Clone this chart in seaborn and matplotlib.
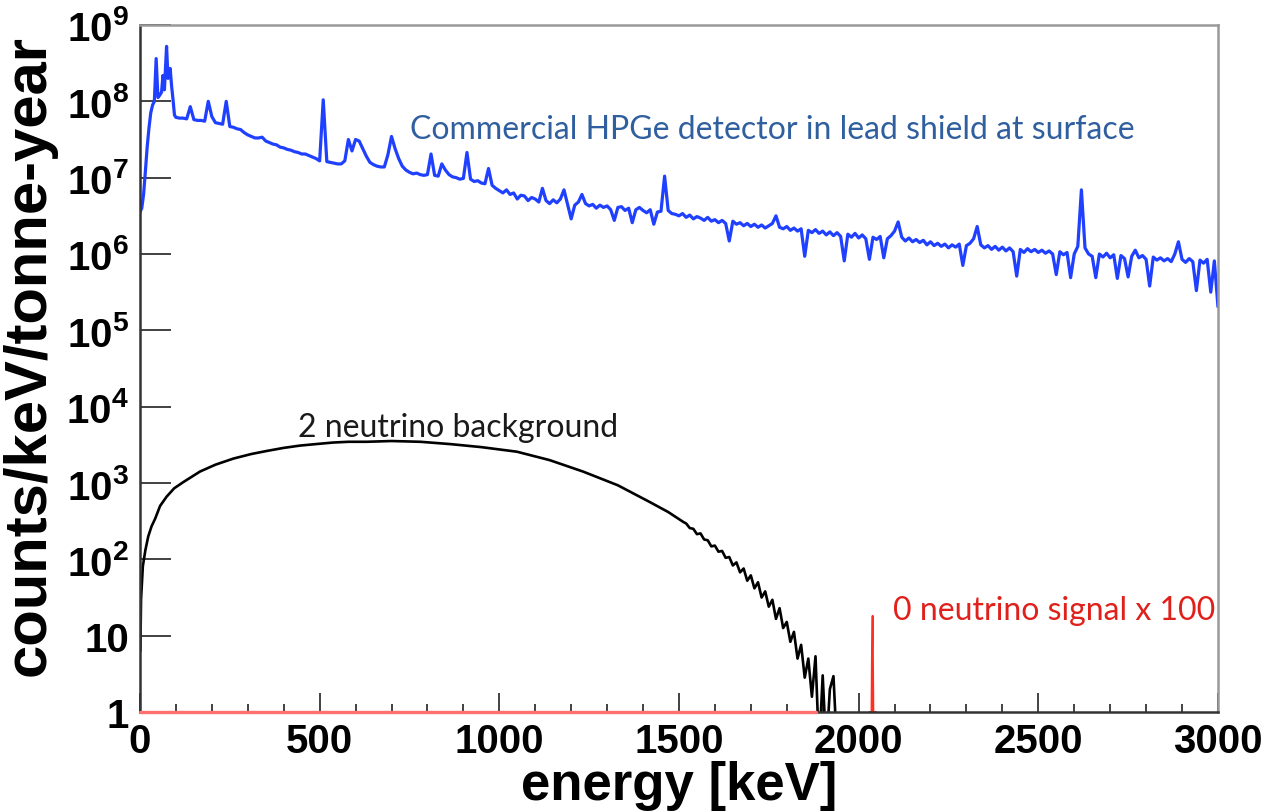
import numpy as np
import pandas as pd
import matplotlib
matplotlib.use('Agg')
import matplotlib.pyplot as plt
import matplotlib.ticker as mticker
import seaborn as sns

# ---- data (values stored as log10 of counts/keV/tonne-year) ----

# HPGe surface spectrum, low-energy part (keV)
hpge_low_energy = [0, 5, 10, 15, 20, 25, 30, 35, 40, 45, 50, 55, 60, 64, 68, 74, 78, 84, 88, 92, 96]
hpge_low_log = [6.55, 6.60, 6.78, 7.08, 7.40, 7.65, 7.85, 7.95, 8.00, 8.56, 8.05, 8.08, 8.12, 8.34,
                8.15, 8.72, 8.30, 8.43, 8.20, 8.02, 7.82]

# HPGe surface spectrum, 10 keV bins from 100 to 3000 keV (one row per 100 keV)
hpge_bin_start = 100
hpge_bin_width = 10
hpge_log = [
    7.79, 7.78, 7.78, 7.77, 7.93, 7.76, 7.75, 7.75, 7.74, 8.00,   # 100
    7.80, 7.72, 7.71, 7.70, 8.00, 7.67, 7.66, 7.64, 7.63, 7.59,   # 200
    7.56, 7.54, 7.52, 7.52, 7.53, 7.48, 7.46, 7.44, 7.43, 7.40,   # 300
    7.39, 7.37, 7.36, 7.34, 7.33, 7.31, 7.31, 7.29, 7.27, 7.25,   # 400
    7.22, 8.02, 7.21, 7.20, 7.19, 7.18, 7.18, 7.22, 7.50, 7.35,   # 500
    7.50, 7.48, 7.38, 7.28, 7.20, 7.17, 7.15, 7.14, 7.14, 7.30,   # 600
    7.54, 7.38, 7.25, 7.15, 7.10, 7.07, 7.05, 7.06, 7.04, 7.03,   # 700
    7.04, 7.31, 7.03, 7.02, 7.18, 7.10, 7.04, 7.01, 7.00, 6.98,   # 800
    6.99, 7.33, 6.98, 6.95, 6.96, 6.93, 6.92, 7.12, 6.90, 6.86,   # 900
    6.83, 6.80, 6.84, 6.78, 6.80, 6.72, 6.77, 6.76, 6.70, 6.74,   # 1000
    6.72, 6.68, 6.86, 6.70, 6.66, 6.71, 6.67, 6.72, 6.84, 6.65,   # 1100
    6.46, 6.64, 6.68, 6.78, 6.66, 6.63, 6.65, 6.60, 6.64, 6.61,   # 1200
    6.63, 6.58, 6.44, 6.61, 6.62, 6.57, 6.60, 6.41, 6.58, 6.61,   # 1300
    6.57, 6.54, 6.58, 6.39, 6.55, 6.56, 7.02, 6.57, 6.53, 6.52,   # 1400
    6.50, 6.53, 6.48, 6.51, 6.46, 6.49, 6.47, 6.44, 6.48, 6.43,   # 1500
    6.45, 6.41, 6.44, 6.40, 6.17, 6.43, 6.39, 6.41, 6.37, 6.40,   # 1600
    6.36, 6.39, 6.35, 6.38, 6.34, 6.37, 6.40, 6.50, 6.35, 6.33,   # 1700
    6.36, 6.31, 6.34, 6.30, 6.33, 5.97, 6.31, 6.28, 6.32, 6.27,   # 1800
    6.30, 6.25, 6.29, 6.24, 6.28, 6.23, 5.91, 6.26, 6.22, 6.27,   # 1900
    6.21, 6.25, 6.20, 5.93, 6.22, 6.19, 6.23, 5.95, 6.20, 6.24,   # 2000
    6.30, 6.42, 6.22, 6.17, 6.21, 6.16, 6.19, 6.15, 6.18, 6.12,   # 2100
    6.16, 6.11, 6.14, 6.10, 6.13, 6.08, 6.12, 6.09, 6.13, 5.85,   # 2200
    6.11, 6.14, 6.20, 6.36, 6.12, 6.08, 6.11, 6.06, 6.10, 6.05,   # 2300
    6.09, 6.04, 6.08, 6.03, 5.71, 6.06, 6.02, 6.07, 6.03, 6.06,   # 2400
    6.02, 6.05, 6.01, 6.04, 6.00, 5.73, 6.03, 5.99, 6.02, 5.69,   # 2500
    6.00, 6.10, 6.84, 6.08, 6.00, 5.97, 5.69, 6.00, 5.96, 6.01,   # 2600
    5.95, 5.99, 5.68, 5.98, 5.94, 5.70, 5.97, 6.05, 5.95, 5.98,   # 2700
    5.93, 5.58, 5.96, 5.92, 5.95, 5.91, 5.94, 5.90, 6.00, 6.16,   # 2800
    5.93, 5.89, 5.94, 5.90, 5.52, 5.92, 5.88, 5.93, 5.50, 5.91,   # 2900
    5.31,                                                         # 3000
]

# two-neutrino double beta spectrum
bb2_energy = [1, 3, 8, 15, 23, 32, 42, 56, 74, 95, 120, 167, 210, 260, 310, 353, 400, 445, 490,
              537, 580, 631, 700, 780, 863, 950, 1049, 1140, 1233, 1330, 1419, 1470, 1512,
              1520, 1530, 1540, 1550, 1560, 1570, 1580, 1590, 1600, 1610,
              1620, 1630, 1640, 1650, 1660, 1670, 1680, 1690, 1700, 1710,
              1720, 1730, 1740, 1750, 1760, 1770, 1780, 1790, 1800, 1810,
              1820, 1830, 1840, 1850, 1860, 1870, 1880, 1890, 1900, 1910, 1920, 1930, 1940]
bb2_log = [0.80, 1.48, 1.91, 2.12, 2.30, 2.43, 2.53, 2.70, 2.82, 2.93, 3.01, 3.15, 3.24, 3.32, 3.38,
           3.42, 3.46, 3.49, 3.51, 3.53, 3.54, 3.54, 3.55, 3.54, 3.51, 3.47, 3.41, 3.30, 3.15, 2.97,
           2.75, 2.62, 2.49,
           2.47, 2.41, 2.40, 2.33, 2.34, 2.26, 2.25, 2.17, 2.18, 2.10,
           2.11, 2.02, 2.03, 1.92, 1.96, 1.83, 1.88, 1.72, 1.79, 1.62,
           1.70, 1.50, 1.58, 1.38, 1.47, 1.22, 1.36, 1.10, 1.18, 0.92,
           1.05, 0.70, 0.88, 0.45, 0.70, 0.20, 0.73, -0.5, 0.48, -0.5, 0.30, 0.47, -0.5]

# zero-neutrino signal (x100)
bb0_floor_energy = [0, 1880]
bb0_floor_log = [0.0, 0.0]
bb0_peak_energy = [2030, 2036, 2037, 2039, 2041, 2048]
bb0_peak_log = [0.0, 0.0, 0.70, 1.26, 0.0, 0.0]

decades = list(range(0, 10))

# ---- build tables ----
hpge_energy = hpge_low_energy + list(range(hpge_bin_start, hpge_bin_start + hpge_bin_width * (len(hpge_log)), hpge_bin_width))
hpge_df = pd.DataFrame({'energy': hpge_energy,
                        'counts': 10 ** np.array(hpge_low_log + hpge_log)})
bb2_df = pd.DataFrame({'energy': bb2_energy, 'counts': 10 ** np.array(bb2_log)})
bb0_floor_df = pd.DataFrame({'energy': bb0_floor_energy, 'counts': 10 ** np.array(bb0_floor_log)})
bb0_peak_df = pd.DataFrame({'energy': bb0_peak_energy, 'counts': 10 ** np.array(bb0_peak_log)})

# ---- style ----
sns.set_style('white')
plt.rcParams['font.family'] = ['Liberation Sans', 'DejaVu Sans']
plt.rcParams['axes.labelcolor'] = 'black'
plt.rcParams['mathtext.fontset'] = 'custom'
plt.rcParams['mathtext.rm'] = 'Liberation Sans:bold'
plt.rcParams['mathtext.bf'] = 'Liberation Sans:bold'
plt.rcParams['mathtext.it'] = 'Liberation Sans:bold'

fig = plt.figure(figsize=(12.76, 8.12), dpi=100)
ax = fig.add_axes([0.1097, 0.1219, 0.8448, 0.8461])

sns.lineplot(data=hpge_df, x='energy', y='counts', ax=ax, color='#2040ff',
             linewidth=2.3, estimator=None, sort=False)
sns.lineplot(data=bb2_df, x='energy', y='counts', ax=ax, color='black',
             linewidth=1.9, estimator=None, sort=False)
sns.lineplot(data=bb0_peak_df, x='energy', y='counts', ax=ax, color='#ff3020',
             linewidth=1.4, estimator=None, sort=False)
floor = sns.lineplot(data=bb0_floor_df, x='energy', y='counts', ax=ax, color='#ff7070',
                     linewidth=2.4, estimator=None, sort=False)
floor.lines[-1].set_zorder(5)
floor.lines[-1].set_clip_on(False)

ax.set_yscale('log')
ax.set_xlim(0, 3000)
ax.set_ylim(1, 1e9)

# ticks
ax.xaxis.set_major_locator(mticker.MultipleLocator(500))
ax.xaxis.set_minor_locator(mticker.MultipleLocator(100))
ax.yaxis.set_major_locator(mticker.FixedLocator([10 ** d for d in decades]))
ax.yaxis.set_minor_locator(mticker.LogLocator(base=10, subs=np.arange(2, 10)))
ax.yaxis.set_minor_formatter(mticker.NullFormatter())
ylabels = ['1', '10'] + [r'$10^{%d}$' % d for d in decades[2:]]
ax.yaxis.set_major_formatter(mticker.FixedFormatter(ylabels))

ax.tick_params(axis='both', which='both', direction='in', left=True, bottom=True,
               top=False, right=False, colors='#333333', width=1.3)
ax.tick_params(axis='y', which='major', length=22, pad=8, labelsize=29, labelcolor='black')
ax.tick_params(axis='y', which='minor', length=11, color='#888888')
ax.tick_params(axis='x', which='major', length=14, pad=7, labelsize=29, labelcolor='black')
ax.tick_params(axis='x', which='minor', length=6)
for lab in ax.get_xticklabels() + ax.get_yticklabels():
    lab.set_fontweight('bold')

for side in ['left', 'bottom']:
    ax.spines[side].set_color('#333333')
    ax.spines[side].set_linewidth(1.8)
for side in ['top', 'right']:
    ax.spines[side].set_color('#999999')
    ax.spines[side].set_linewidth(1.8)

ax.set_xlabel('energy [keV]', fontsize=38, fontweight='bold', labelpad=0)
ax.set_ylabel('counts/keV/tonne-year', fontsize=43, fontweight='bold')
ax.yaxis.set_label_coords(-0.077, 0.52)

# annotations
ax.text(751, 4.4e7, 'Commercial HPGe detector in lead shield at surface', family='Lato',
        fontsize=23, color='#2f5f9f', ha='left', va='center')
ax.text(440, 5.4e3, '2 neutrino background', family='Lato',
        fontsize=23, color='#1a1a1a', ha='left', va='center')
ax.text(2096, 22, '0 neutrino signal x 100', family='Lato',
        fontsize=23, color='#e0201b', ha='left', va='center')

fig.savefig('out.png', dpi=100)
plt.close(fig)
